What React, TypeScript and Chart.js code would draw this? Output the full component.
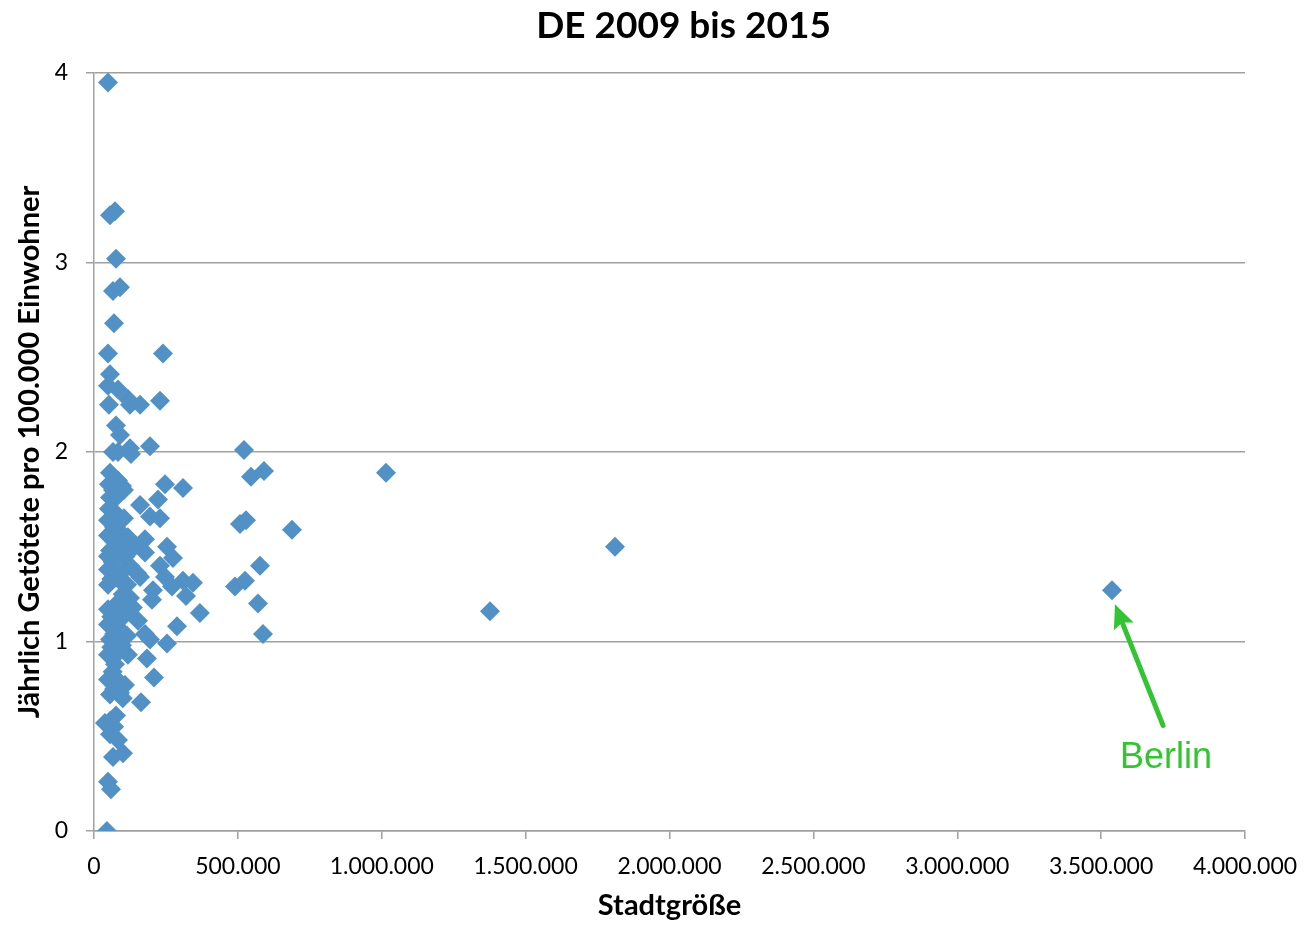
import React, { useEffect, useRef } from "react";
import { Chart, registerables } from "chart.js";

Chart.register(...registerables);

const TITLE = "DE 2009 bis 2015";
const X_TITLE = "Stadtgröße";
const Y_TITLE = "Jährlich Getötete pro 100.000 Einwohner";
const BERLIN_LABEL = "Berlin";

// population (inhabitants)
const cityPopulation: number[] = [
  48700, 55600, 73000, 76500, 66000, 90400, 69500, 48700, 239800, 55600,
  48700, 83400, 52000, 118000, 125000, 160000, 229400, 76500, 90400, 194600,
  125100, 128600, 66000, 83400, 521300, 590800, 545600, 1014700, 55600, 52000,
  83400, 97300, 104000, 66000, 246700, 309300, 55600, 76500, 160000, 222400,
  52000, 62500, 48700, 104000, 80000, 194600, 229400, 507400, 528200, 688000,
  48700, 118000, 177200, 90000, 70000, 1810600, 253700, 55600, 90400, 177200,
  274500, 48700, 110000, 75000, 97000, 140000, 229400, 576900, 125100, 48700,
  65000, 100000, 80000, 150000, 246700, 160000, 90400, 309300, 344000, 490000,
  524800, 271000, 48700, 60000, 115000, 3537800, 205000, 125100, 319700, 201600,
  73000, 570000, 368000, 1376200, 48700, 107700, 153000, 90000, 60000, 80000,
  135000, 100000, 288400, 48700, 177200, 587300, 253700, 55600, 97300, 194600,
  70000, 115000, 48700, 118000, 184000, 73000, 60000, 90000, 48700, 208500,
  107700, 55600, 90400, 163300, 65000, 80000, 70000, 100000, 76500, 55600,
  38000, 55600, 83400, 66000, 100800, 70000, 48700, 59000, 45000,
];

// yearly traffic deaths per 100,000 inhabitants
const deathRate: number[] = [
  3.95, 3.25, 3.27, 3.02, 2.85, 2.87, 2.68, 2.52, 2.52, 2.41,
  2.35, 2.33, 2.25, 2.28, 2.25, 2.25, 2.27, 2.14, 2.09, 2.03,
  2.02, 1.99, 2.0, 2.0, 2.01, 1.9, 1.87, 1.89, 1.89, 1.83,
  1.85, 1.82, 1.8, 1.8, 1.83, 1.81, 1.76, 1.76, 1.72, 1.75,
  1.7, 1.64, 1.64, 1.65, 1.67, 1.66, 1.65, 1.62, 1.64, 1.59,
  1.56, 1.55, 1.54, 1.58, 1.6, 1.5, 1.5, 1.48, 1.49, 1.47,
  1.44, 1.45, 1.45, 1.5, 1.52, 1.5, 1.4, 1.4, 1.4, 1.38,
  1.42, 1.37, 1.35, 1.36, 1.34, 1.34, 1.32, 1.32, 1.31, 1.29,
  1.32, 1.29, 1.3, 1.33, 1.3, 1.27, 1.27, 1.23, 1.24, 1.22,
  1.19, 1.2, 1.15, 1.16, 1.17, 1.14, 1.11, 1.2, 1.13, 1.08,
  1.18, 1.25, 1.08, 1.09, 1.04, 1.04, 0.99, 1.01, 0.98, 1.01,
  1.04, 1.03, 0.93, 0.93, 0.91, 0.88, 0.97, 0.95, 0.8, 0.81,
  0.77, 0.72, 0.73, 0.68, 0.84, 0.8, 0.75, 0.7, 0.61, 0.58,
  0.57, 0.51, 0.48, 0.39, 0.41, 0.55, 0.26, 0.22, 0.0,
];

const BERLIN_POP = 3537800;
const BERLIN_RATE = 1.27;

const X_MAX = 4000000;
const X_STEP = 500000;
const Y_MAX = 4;
const Y_STEP = 1;

const MARKER_COLOR = "#5291C6";
const GRID_COLOR = "#A0A0A0";
const GREEN = "#33C433";

const W = 1305;
const H = 929;

function formatDE(v: number): string {
  return String(Math.round(v)).replace(/\B(?=(\d{3})+(?!\d))/g, ".");
}

const annotationPlugin = {
  id: "annotations",
  afterDraw(chart: any) {
    const { ctx, chartArea, scales } = chart;
    ctx.save();
    // Title
    ctx.fillStyle = "#000";
    ctx.font = "bold 37px Lato";
    ctx.textAlign = "center";
    ctx.textBaseline = "alphabetic";
    ctx.fillText(TITLE, (chartArea.left + chartArea.right) / 2 + 14, 38);

    // Berlin arrow
    const bx = scales.x.getPixelForValue(BERLIN_POP);
    const by = scales.y.getPixelForValue(BERLIN_RATE);
    const tipX = bx + 3;
    const tipY = by + 14;
    const tailX = bx + 51;
    const tailY = by + 135;
    const ang = Math.atan2(tipY - tailY, tipX - tailX);
    const headLen = 26;
    const headHalf = 0.42;
    ctx.strokeStyle = GREEN;
    ctx.fillStyle = GREEN;
    ctx.lineWidth = 5;
    ctx.lineCap = "round";
    ctx.beginPath();
    ctx.moveTo(tailX, tailY);
    ctx.lineTo(tipX - Math.cos(ang) * (headLen - 6), tipY - Math.sin(ang) * (headLen - 6));
    ctx.stroke();
    ctx.beginPath();
    ctx.moveTo(tipX, tipY);
    ctx.lineTo(tipX - headLen * Math.cos(ang - headHalf), tipY - headLen * Math.sin(ang - headHalf));
    ctx.lineTo(tipX - headLen * 0.75 * Math.cos(ang), tipY - headLen * 0.75 * Math.sin(ang));
    ctx.lineTo(tipX - headLen * Math.cos(ang + headHalf), tipY - headLen * Math.sin(ang + headHalf));
    ctx.closePath();
    ctx.fill();

    // Berlin label
    ctx.font = "36px 'Liberation Sans', Arial, sans-serif";
    ctx.textAlign = "left";
    ctx.textBaseline = "alphabetic";
    ctx.fillText(BERLIN_LABEL, bx + 8, by + 178);
    ctx.restore();
  },
};

export default function App() {
  const canvasRef = useRef<HTMLCanvasElement | null>(null);

  useEffect(() => {
    if (!canvasRef.current) return;
    const points = cityPopulation.map((p, i) => ({ x: p, y: deathRate[i] }));
    const chart = new Chart(canvasRef.current, {
      type: "scatter",
      data: {
        datasets: [
          {
            label: "Städte",
            data: points,
            pointStyle: "rectRot",
            pointRadius: 10,
            pointHoverRadius: 10,
            backgroundColor: MARKER_COLOR,
            borderColor: MARKER_COLOR,
            borderWidth: 0,
          },
        ],
      },
      options: {
        responsive: false,
        animation: false,
        events: [],
        layout: { padding: { top: 73, right: 60, left: 0, bottom: 0 } },
        plugins: {
          legend: { display: false },
          title: { display: false },
          tooltip: { enabled: false },
        },
        scales: {
          x: {
            type: "linear",
            min: 0,
            max: X_MAX,
            afterFit: (s: any) => {
              s.height = 98;
              s.paddingRight = 0;
              s.paddingLeft = 0;
            },
            ticks: {
              stepSize: X_STEP,
              color: "#000",
              font: { family: "Lato", size: 23 },
              padding: 14,
              maxRotation: 0,
              callback: (v: any) => formatDE(Number(v)),
            },
            grid: {
              drawOnChartArea: false,
              drawTicks: true,
              tickLength: 8,
              color: GRID_COLOR,
              lineWidth: 1.5,
            },
            border: { display: true, color: GRID_COLOR, width: 1.5 },
            title: {
              display: true,
              text: X_TITLE,
              color: "#000",
              font: { family: "Lato", size: 29, weight: "bold", lineHeight: 1 },
              padding: { top: 0, bottom: 9 },
            },
          },
          y: {
            type: "linear",
            min: 0,
            max: Y_MAX,
            afterFit: (s: any) => {
              s.width = 94;
            },
            ticks: {
              stepSize: Y_STEP,
              color: "#000",
              font: { family: "Lato", size: 23 },
              padding: 18,
            },
            grid: {
              drawTicks: true,
              tickLength: 8,
              color: GRID_COLOR,
              lineWidth: 1.5,
            },
            border: { display: true, color: GRID_COLOR, width: 1.5 },
            title: {
              display: true,
              text: Y_TITLE,
              color: "#000",
              font: { family: "Lato", size: 29, weight: "bold", lineHeight: 1 },
              padding: { top: 15, bottom: 0 },
            },
          },
        },
      },
      plugins: [annotationPlugin],
    });
    return () => chart.destroy();
  }, []);

  return (
    <div style={{ position: "absolute", left: 0, top: 0, width: W, height: H }}>
      <canvas
        ref={canvasRef}
        width={W}
        height={H}
        style={{ display: "block", width: W, height: H }}
      />
    </div>
  );
}
